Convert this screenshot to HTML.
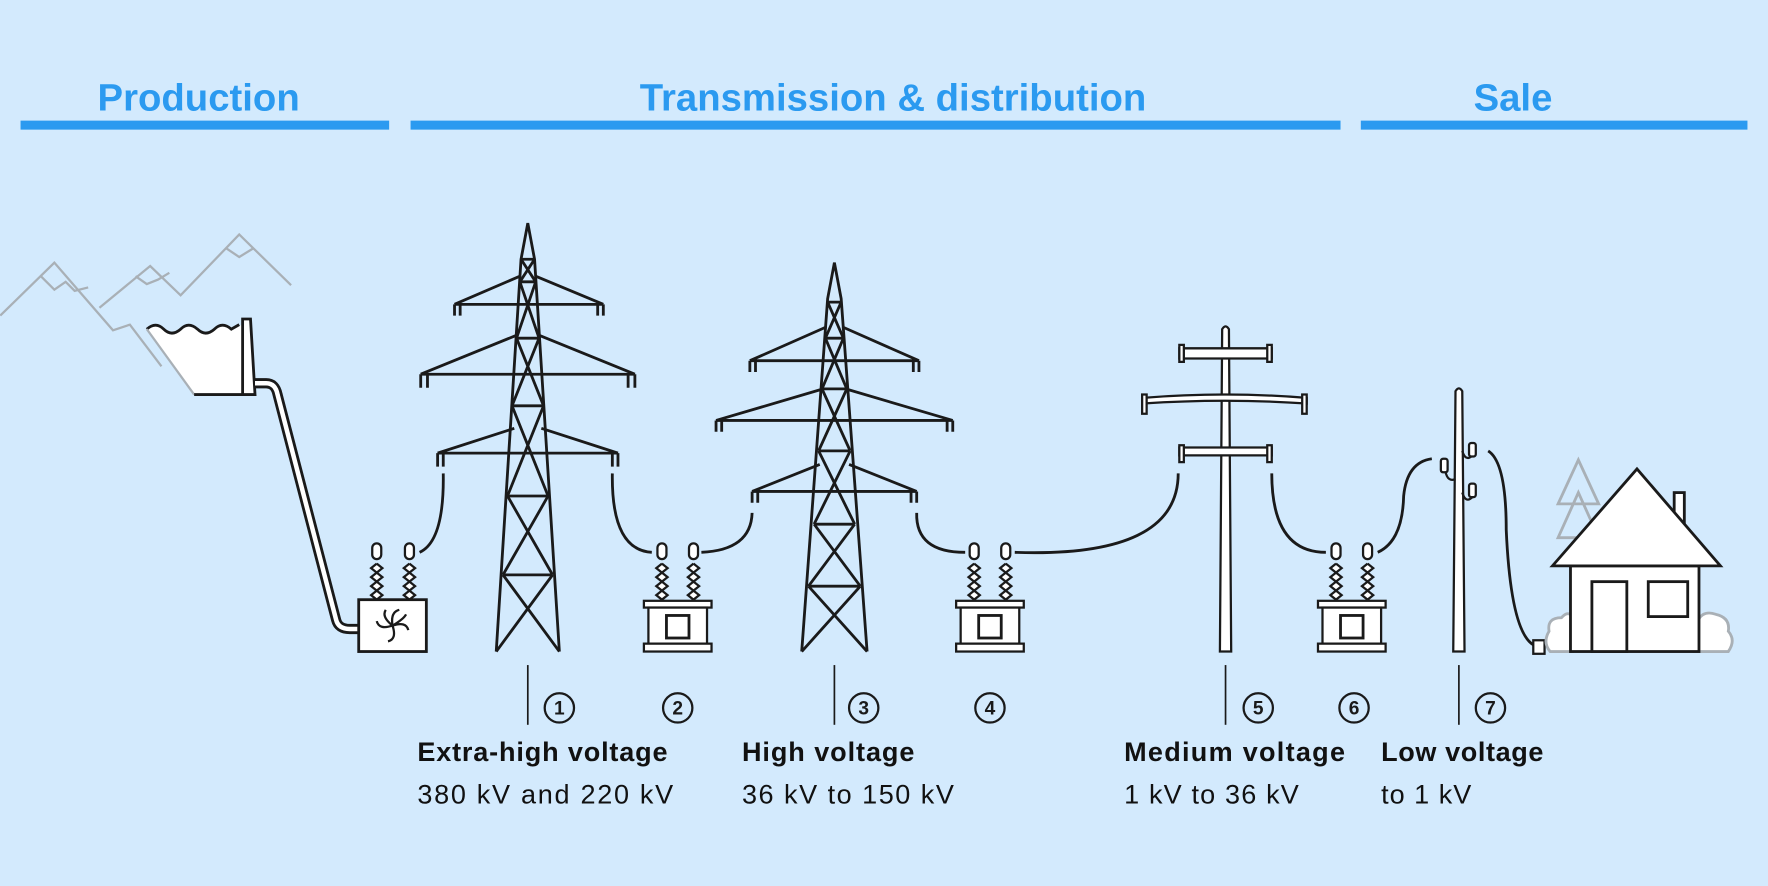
<!DOCTYPE html>
<html><head><meta charset="utf-8"><style>
html,body{margin:0;padding:0;background:#d3eafd;}
svg{display:block}
text{font-family:"Liberation Sans",sans-serif}
</style></head><body>
<svg width="1768" height="886" viewBox="0 0 1568 786" xmlns="http://www.w3.org/2000/svg">
<rect width="1568" height="786" fill="#d3eafd"/>
<g fill="#2b9af0" font-weight="bold" font-size="34">
<text x="176" y="98" text-anchor="middle">Production</text>
<text x="792" y="98" text-anchor="middle">Transmission &amp; distribution</text>
<text x="1342" y="98" text-anchor="middle">Sale</text>
<rect x="18" y="107" width="327" height="8"/>
<rect x="364" y="107" width="825" height="8"/>
<rect x="1207" y="107" width="343" height="8"/>
</g>
<!-- mountains -->
<g fill="none" stroke="#a9b0b6" stroke-width="2">
<polyline points="0,280 48,233 100,293 115,288 143,325"/>
<polyline points="36,245 48,257 58,250 66,258 78,255"/>
<polyline points="88,273 133,236 160,262 212,208 258,253"/>
<polyline points="120,245 130,252 140,248 150,242"/>
<polyline points="200,220 212,228 225,220"/>
</g>
<!-- dam -->
<path d="M130,292 Q138,285 145,292 Q152,299 160,292 Q167,285 175,292 Q182,299 190,292 Q197,285 205,292 L215,288 L215,350 L172,350 Z" fill="#fff"/>
<path d="M130,292 Q138,285 145,292 Q152,299 160,292 Q167,285 175,292 Q182,299 190,292 Q197,285 205,292 L212,288" fill="none" stroke="#1a1a1a" stroke-width="2.5"/>
<line x1="130" y1="292" x2="172" y2="350" stroke="#a9b0b6" stroke-width="2"/>
<line x1="172" y1="350" x2="226" y2="350" stroke="#1a1a1a" stroke-width="2.5"/>
<path d="M215,283 L222,283 L226,350 L215,350 Z" fill="#fff" stroke="#1a1a1a" stroke-width="2.5"/>
<!-- pipe -->
<path d="M226,340 L236,340 Q244,340 246,350 L298,550 Q300,558 310,558 L320,558" fill="none" stroke="#1a1a1a" stroke-width="9"/>
<path d="M226,340 L236,340 Q244,340 246,350 L298,550 Q300,558 310,558 L320,558" fill="none" stroke="#fff" stroke-width="4"/>
<g fill="none" stroke="#1a1a1a" stroke-width="2.5">
<!-- Tower 1 -->
<path d="M440,578 L462,230 L468,198 L474,230 L496,578"/>
<path d="M458,300 L478,300 M454,360 L482,360 M450,440 L486,440 M446,510 L490,510 M462,230 L474,230 M461,250 L475,250"/>
<path d="M462,230 L475,250 M474,230 L461,250 M461,250 L478,300 M475,250 L458,300 M458,300 L482,360 M478,300 L454,360 M454,360 L486,440 M482,360 L450,440 M450,440 L490,510 M486,440 L446,510 M446,510 L496,578 M490,510 L440,578"/>
<path d="M403,270 L535,270 M403,270 L461,245 M535,270 L475,245 M403,270 v10 M408,270 v10 M530,270 v10 M535,270 v10"/>
<path d="M373,332 L563,332 M373,332 L459,297 M563,332 L477,297 M373,332 v12 M379,332 v12 M557,332 v12 M563,332 v12"/>
<path d="M388,402 L548,402 M388,402 L456,380 M548,402 L480,380 M388,402 v12 M393,402 v12 M543,402 v12 M548,402 v12"/>
<!-- Tower 2 -->
<path d="M711,578 L734,265 L740,233 L746,265 L769,578"/>
<path d="M734,268 L746,268 M732,300 L748,300 M729,345 L751,345 M726,400 L754,400 M722,465 L758,465 M717,520 L763,520"/>
<path d="M734,268 L748,300 M746,268 L732,300 M732,300 L751,345 M748,300 L729,345 M729,345 L754,400 M751,345 L726,400 M726,400 L758,465 M754,400 L722,465 M722,465 L763,520 M758,465 L717,520 M717,520 L769,578 M763,520 L711,578"/>
<path d="M665,320 L815,320 M665,320 L733,290 M815,320 L747,290 M665,320 v10 M670,320 v10 M810,320 v10 M815,320 v10"/>
<path d="M635,373 L845,373 M635,373 L730,345 M845,373 L750,345 M635,373 v10 M640,373 v10 M840,373 v10 M845,373 v10"/>
<path d="M667,436 L813,436 M667,436 L727,412 M813,436 L753,412 M667,436 v10 M672,436 v10 M808,436 v10 M813,436 v10"/>
</g>
<!-- pole 5 -->
<g stroke="#1a1a1a" stroke-width="2" fill="#fff">
<path d="M1084,292 Q1087,287 1090,292 L1092,578 L1082,578 Z"/>
<path d="M1046,309 L1128,309 L1128,318 L1046,318 Z"/>
<path d="M1046,306 v15 h4 v-15 z M1124,306 v15 h4 v-15 z"/>
<path d="M1013,353 Q1087,347 1159,353 L1159,358 Q1087,353 1013,358 Z"/>
<path d="M1013,350 v17 h4 v-17 z M1155,350 v17 h4 v-17 z"/>
<path d="M1046,397 L1128,397 L1128,404 L1046,404 Z"/>
<path d="M1046,395 v15 h4 v-15 z M1124,395 v15 h4 v-15 z"/>
<!-- pole 7 -->
<path d="M1291,347 Q1294,342 1297,347 L1299,578 L1289,578 Z"/>
<rect x="1360" y="568" width="10" height="12"/>
</g>
<g fill="none" stroke="#1a1a1a" stroke-width="2">
<path d="M1291,425 Q1284,428 1282,418 M1297,400 Q1300,410 1306,404 M1297,437 Q1300,447 1306,441"/>
<rect x="1278" y="407" width="6" height="12" rx="2" fill="#fff"/>
<rect x="1303" y="393" width="6" height="12" rx="2" fill="#fff"/>
<rect x="1303" y="429" width="6" height="12" rx="2" fill="#fff"/>
</g>
<!-- house / tree / bushes -->
<g fill="none" stroke="#a9b0b6" stroke-width="2.5">
<path d="M1382,447 L1400,408 L1418,447 Z M1382,477 L1400,437 L1418,477 Z"/>
<path d="M1395,578 L1375,578 Q1368,570 1374,560 Q1372,548 1385,548 Q1392,540 1396,550 Z" fill="#fff"/>
<path d="M1502,578 Q1490,575 1492,563 Q1496,554 1504,556 Q1508,540 1522,545 Q1535,548 1533,560 Q1540,568 1533,578 Z" fill="#fff"/>
</g>
<g stroke="#1a1a1a" stroke-width="2.5" fill="#fff">
<rect x="1485" y="437" width="9" height="40"/>
<rect x="1393" y="502" width="114" height="76"/>
<path d="M1377,502 L1452,416 L1526,502 Z"/>
<rect x="1412" y="516" width="31" height="62"/>
<rect x="1462" y="516" width="35" height="31"/>
</g>
<!-- wires -->
<g fill="none" stroke="#1a1a1a" stroke-width="2.5">
<path d="M393,420 Q394,480 372,490"/>
<path d="M543,420 Q542,488 578,490"/>
<path d="M622,490 Q666,488 667,455"/>
<path d="M813,455 Q812,490 856,490"/>
<path d="M900,490 Q1045,495 1045,420"/>
<path d="M1128,420 Q1128,490 1176,490"/>
<path d="M1222,490 Q1244,480 1245,440 Q1248,410 1270,407"/>
<path d="M1320,400 Q1336,410 1336,470 Q1340,560 1360,572"/>
</g>
<!-- transformers -->
<defs>
<g id="ins">
<rect x="-4" y="-18" width="8" height="14" rx="4" fill="#fff" stroke="#1a1a1a" stroke-width="2"/>
<path d="M0,0 l-5,4 l5,4 l-5,4 l5,4 l-5,4 l5,4 l-5,4 l5,4 M0,0 l5,4 l-5,4 l5,4 l-5,4 l5,4 l-5,4 l5,4 l-5,4" fill="#fff" stroke="#1a1a1a" stroke-width="2"/>
</g>
<g id="tr">
<use href="#ins" x="-14" y="500"/><use href="#ins" x="14" y="500"/>
<rect x="-30" y="533" width="60" height="6" fill="#fff" stroke="#1a1a1a" stroke-width="2"/>
<rect x="-26" y="539" width="52" height="32" fill="#fff" stroke="#1a1a1a" stroke-width="2"/>
<rect x="-30" y="571" width="60" height="7" fill="#fff" stroke="#1a1a1a" stroke-width="2"/>
<rect x="-10" y="546" width="20" height="20" fill="#fff" stroke="#1a1a1a" stroke-width="2.5"/>
</g>
</defs>
<use href="#ins" x="334" y="500"/><use href="#ins" x="363" y="500"/>
<rect x="318" y="532" width="60" height="46" fill="#fff" stroke="#1a1a1a" stroke-width="2.5"/>
<g transform="translate(348,555)" fill="none" stroke="#1a1a1a" stroke-width="2">
<path d="M0,0 Q-2,-12 6,-14 M0,0 Q12,-4 14,4 M0,0 Q4,12 -4,14 M0,0 Q-12,4 -14,-4 M0,0 Q-10,-8 -6,-14 M0,0 Q10,-6 12,-10"/>
</g>
<use href="#tr" x="601"/><use href="#tr" x="878"/><use href="#tr" x="1199"/>
<!-- label markers -->
<g stroke="#1a1a1a" stroke-width="1.5">
<line x1="468" y1="590" x2="468" y2="643"/>
<line x1="740" y1="590" x2="740" y2="643"/>
<line x1="1087" y1="590" x2="1087" y2="643"/>
<line x1="1294" y1="590" x2="1294" y2="643"/>
</g>
<g fill="none" stroke="#1a1a1a" stroke-width="2">
<circle cx="496" cy="628" r="13"/><circle cx="601" cy="628" r="13"/><circle cx="766" cy="628" r="13"/><circle cx="878" cy="628" r="13"/><circle cx="1116" cy="628" r="13"/><circle cx="1201" cy="628" r="13"/><circle cx="1322" cy="628" r="13"/>
</g>
<g font-size="17" font-weight="bold" text-anchor="middle" fill="#1a1a1a">
<text x="496" y="634">1</text><text x="601" y="634">2</text><text x="766" y="634">3</text><text x="878" y="634">4</text><text x="1116" y="634">5</text><text x="1201" y="634">6</text><text x="1322" y="634">7</text>
</g>
<g font-size="24" fill="#111">
<text x="370" y="675" font-weight="bold" textLength="222">Extra-high voltage</text>
<text x="370" y="713" textLength="227">380 kV and 220 kV</text>
<text x="658" y="675" font-weight="bold" textLength="153">High voltage</text>
<text x="658" y="713" textLength="188">36 kV to 150 kV</text>
<text x="997" y="675" font-weight="bold" textLength="196">Medium voltage</text>
<text x="997" y="713" textLength="155">1 kV to 36 kV</text>
<text x="1225" y="675" font-weight="bold" textLength="144">Low voltage</text>
<text x="1225" y="713" textLength="80">to 1 kV</text>
</g>
</svg>
</body></html>
